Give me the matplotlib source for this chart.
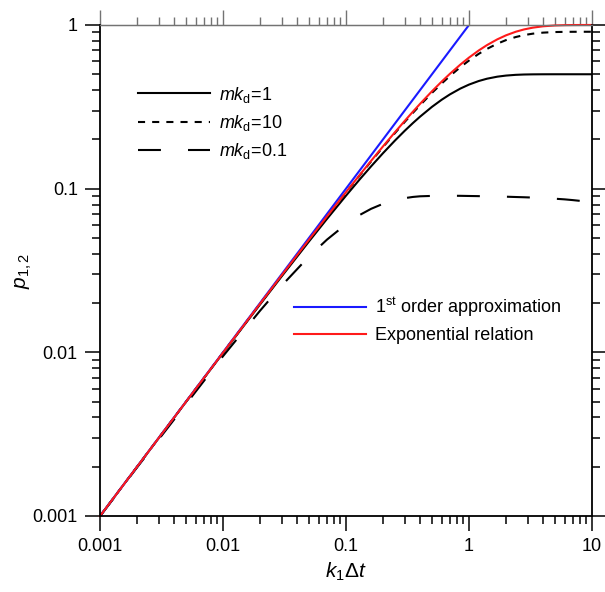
import matplotlib
matplotlib.use("Agg")
import matplotlib.pyplot as plt
from matplotlib.lines import Line2D
from matplotlib.ticker import LogLocator, FixedLocator, FixedFormatter, NullFormatter

plt.rcParams['font.family'] = ['Liberation Sans', 'DejaVu Sans']
plt.rcParams['mathtext.fontset'] = 'custom'
plt.rcParams['mathtext.rm'] = 'Liberation Sans'
plt.rcParams['mathtext.it'] = 'Liberation Sans:italic'
plt.rcParams['mathtext.bf'] = 'Liberation Sans:bold'

# ---- data ----
k_dt = [0.001, 0.002, 0.005, 0.01, 0.02, 0.03, 0.05, 0.07, 0.1, 0.13, 0.16, 0.2,
        0.25, 0.3, 0.35, 0.4, 0.5, 0.6, 0.7, 0.85, 1.0, 1.2, 1.4, 1.7, 2.0, 2.4,
        2.8, 3.3, 4.0, 5.0, 6.0, 7.0, 8.5, 10.0]

p_mkd1 = [0.000999, 0.001996, 0.004975, 0.0099, 0.0196, 0.02912, 0.04758, 0.0653,
          0.0906, 0.1145, 0.1369, 0.1648, 0.1967, 0.2256, 0.2517, 0.2753, 0.3161,
          0.3494, 0.3767, 0.4087, 0.4323, 0.4546, 0.4696, 0.4833, 0.4908, 0.4959,
          0.4982, 0.4993, 0.4998, 0.5, 0.5, 0.5, 0.5, 0.5]

p_mkd10 = [0.0009995, 0.001998, 0.004986, 0.00995, 0.0198, 0.02951, 0.04866, 0.0674,
           0.0947, 0.1211, 0.1467, 0.1795, 0.2185, 0.2555, 0.2905, 0.3236, 0.3846,
           0.4392, 0.4882, 0.5522, 0.6065, 0.6663, 0.7142, 0.7690, 0.8084, 0.8442,
           0.8673, 0.8850, 0.8979, 0.9054, 0.9078, 0.9086, 0.9090, 0.9091]

p_mkd01 = [0.000995, 0.00198, 0.00482, 0.00947, 0.01795, 0.02555, 0.0385, 0.0488,
           0.0606, 0.0692, 0.0753, 0.0808, 0.0851, 0.0875, 0.0890, 0.0898, 0.0903,
           0.0905, 0.0905, 0.0904, 0.0902, 0.0900, 0.0898, 0.0895, 0.0893, 0.0889,
           0.0886, 0.0882, 0.0876, 0.0868, 0.0860, 0.0851, 0.0838, 0.0825]

p_exp = [0.0009995, 0.001998, 0.004988, 0.00995, 0.0198, 0.02956, 0.04877, 0.0676,
         0.0952, 0.1219, 0.1479, 0.1813, 0.2212, 0.2592, 0.2953, 0.3297, 0.3935,
         0.4512, 0.5034, 0.5726, 0.6321, 0.6988, 0.7534, 0.8173, 0.8647, 0.9093,
         0.9392, 0.9631, 0.9817, 0.9933, 0.9975, 0.9991, 0.9998, 1.0]

k_first = [0.001, 1.0]
p_first = [0.001, 1.0]

x_ticks = [0.001, 0.01, 0.1, 1, 10]
x_ticklabels = ["0.001", "0.01", "0.1", "1", "10"]
y_ticks = [0.001, 0.01, 0.1, 1]
y_ticklabels = ["0.001", "0.01", "0.1", "1"]

labels_mkd = [r"$mk_\mathrm{d}$=1", r"$mk_\mathrm{d}$=10", r"$mk_\mathrm{d}$=0.1"]
labels_model = [r"1$^\mathrm{st}$ order approximation", "Exponential relation"]

# ---- figure ----
fig = plt.figure(figsize=(6.05, 5.92), dpi=100)
ax = fig.add_axes([0.1653, 0.1284, 0.8132, 0.8294])

lw = 1.5
ls_short = (0, (3.4, 3.4))
ls_long = (0, (11, 13))

ax.plot(k_dt, p_mkd1, color='black', lw=lw)
ax.plot(k_dt, p_mkd10, color='black', lw=lw, linestyle=ls_short)
ax.plot(k_dt, p_mkd01, color='black', lw=lw, linestyle=ls_long)
ax.plot(k_first, p_first, color='#1a1aff', lw=lw)
ax.plot(k_dt, p_exp, color='#ff1a1a', lw=lw, clip_on=False)

ax.set_xscale('log')
ax.set_yscale('log')
ax.set_xlim(0.001, 10)
ax.set_ylim(0.001, 1)

ax.xaxis.set_major_locator(FixedLocator(x_ticks))
ax.xaxis.set_major_formatter(FixedFormatter(x_ticklabels))
ax.yaxis.set_major_locator(FixedLocator(y_ticks))
ax.yaxis.set_major_formatter(FixedFormatter(y_ticklabels))
ax.xaxis.set_minor_locator(LogLocator(base=10, subs=range(2, 10), numticks=20))
ax.yaxis.set_minor_locator(LogLocator(base=10, subs=range(2, 10), numticks=20))
ax.xaxis.set_minor_formatter(NullFormatter())
ax.yaxis.set_minor_formatter(NullFormatter())

for s in ['left', 'right', 'bottom']:
    ax.spines[s].set_linewidth(1.3)
ax.spines['top'].set_color('0.45')
ax.spines['top'].set_linewidth(1.0)

ax.tick_params(which='both', direction='out', labelsize=13, width=1.1,
               top=False, right=True, labelright=False)
ax.tick_params(which='major', length=11, pad=5)
ax.tick_params(which='minor', length=6)

sec = ax.secondary_xaxis('top')
sec.set_xscale('log')
sec.xaxis.set_major_locator(FixedLocator(x_ticks))
sec.xaxis.set_minor_locator(LogLocator(base=10, subs=range(2, 10), numticks=20))
sec.xaxis.set_major_formatter(NullFormatter())
sec.xaxis.set_minor_formatter(NullFormatter())
sec.spines['top'].set_color('0.45')
sec.tick_params(which='both', direction='out', color='0.45', width=1.0)
sec.tick_params(which='major', length=11)
sec.tick_params(which='minor', length=6)

ax.set_xlabel(r"$k_\mathit{1}\Delta t$", fontsize=15, labelpad=4)
ax.set_ylabel(r"$p_\mathrm{1,2}$", fontsize=15, labelpad=-1)

h1 = [Line2D([], [], color='black', lw=lw),
      Line2D([], [], color='black', lw=lw, linestyle=ls_short),
      Line2D([], [], color='black', lw=lw, linestyle=ls_long)]
leg1 = ax.legend(h1, labels_mkd, loc='upper left', bbox_to_anchor=(0.063, 0.893),
                 frameon=False, fontsize=13, handlelength=4.0, handletextpad=0.45,
                 labelspacing=0.45, borderaxespad=0)
ax.add_artist(leg1)

h2 = [Line2D([], [], color='#1a1aff', lw=lw), Line2D([], [], color='#ff1a1a', lw=lw)]
ax.legend(h2, labels_model, loc='upper left', bbox_to_anchor=(0.38, 0.464),
          frameon=False, fontsize=13, handlelength=4.0, handletextpad=0.45,
          labelspacing=0.45, borderaxespad=0)

fig.savefig("out.png", dpi=100)
